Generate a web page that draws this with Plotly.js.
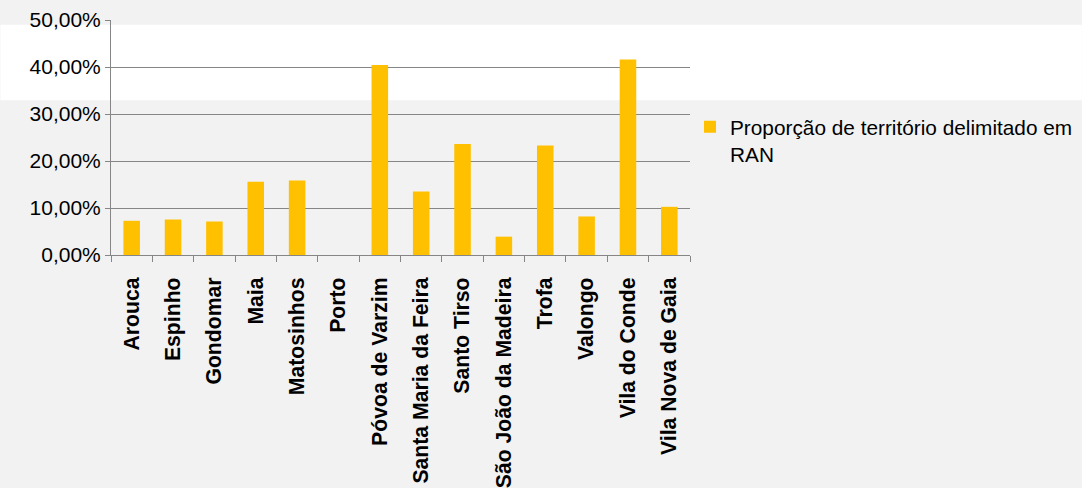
<!DOCTYPE html>
<html>
<head>
<meta charset="utf-8">
<script src="https://cdn.plot.ly/plotly-3.0.1.min.js"></script>
<style>
html,body{margin:0;padding:0;background:#f2f2f2;}
#chart{width:1082px;height:488px;}
</style>
</head>
<body>
<div id="chart"></div>
<script>
const categories = ["Arouca","Espinho","Gondomar","Maia","Matosinhos","Porto","Póvoa de Varzim","Santa Maria da Feira","Santo Tirso","São João da Madeira","Trofa","Valongo","Vila do Conde","Vila Nova de Gaia"];
const values = [0.0728,0.0755,0.0713,0.156,0.1585,0,0.404,0.135,0.236,0.039,0.233,0.082,0.416,0.1025];
const seriesName = "Proporção de território delimitado em<br>RAN";
const yTickVals = [0,0.1,0.2,0.3,0.4,0.5];

const W = 1082, H = 488;
const L = 110.7, R = 690, T = 20.3, B = 255.5;
const pw = R - L, ph = B - T;
const px2x = v => (v - L) / pw;
const py2y = v => (B - v) / ph;

const FONT = 'Arial';

const trace = {
  type: 'bar',
  x: categories,
  y: values,
  name: seriesName,
  marker: {color: '#FFC000', line: {width: 0}},
  showlegend: true,
  hoverinfo: 'x+y'
};

const layout = {
  width: W, height: H,
  paper_bgcolor: '#f2f2f2',
  plot_bgcolor: 'rgba(0,0,0,0)',
  separators: ',.',
  font: {family: FONT, size: 21, color: '#000'},
  margin: {l: L, r: W - R, t: T, b: H - B, autoexpand: false},
  bargap: 0.6,
  showlegend: true,
  legend: {
    x: px2x(690), y: py2y(107), xanchor: 'left', yanchor: 'top',
    valign: 'top',
    bgcolor: 'rgba(0,0,0,0)',
    font: {family: FONT, size: 20.8, color: '#000'}
  },
  xaxis: {
    type: 'category',
    tickangle: -90,
    tickfont: {family: FONT, size: 21.2, color: '#000', weight: 'bold'},
    ticks: 'outside', ticklen: 6, tickcolor: '#868686', tickwidth: 1,
    tickson: 'boundaries',
    ticklabelstandoff: 13,
    showline: true, linecolor: '#868686', linewidth: 1,
    showgrid: false, zeroline: false,
    fixedrange: true
  },
  yaxis: {
    range: [0, 0.5],
    tickvals: yTickVals,
    tickformat: '.2%',
    tickfont: {family: FONT, size: 21, color: '#000'},
    ticks: 'outside', ticklen: 5, tickcolor: '#868686', tickwidth: 1,
    showline: true, linecolor: '#868686', linewidth: 1,
    showgrid: true, gridcolor: '#868686', gridwidth: 1,
    zeroline: false,
    fixedrange: true
  },
  shapes: [{
    type: 'rect', xref: 'paper', yref: 'paper', layer: 'below',
    x0: px2x(0), x1: px2x(W), y0: py2y(100.5), y1: py2y(25),
    fillcolor: '#ffffff', line: {width: 0}
  }]
};

Plotly.newPlot('chart', [trace], layout, {displayModeBar: false, staticPlot: true});
</script>
</body>
</html>
